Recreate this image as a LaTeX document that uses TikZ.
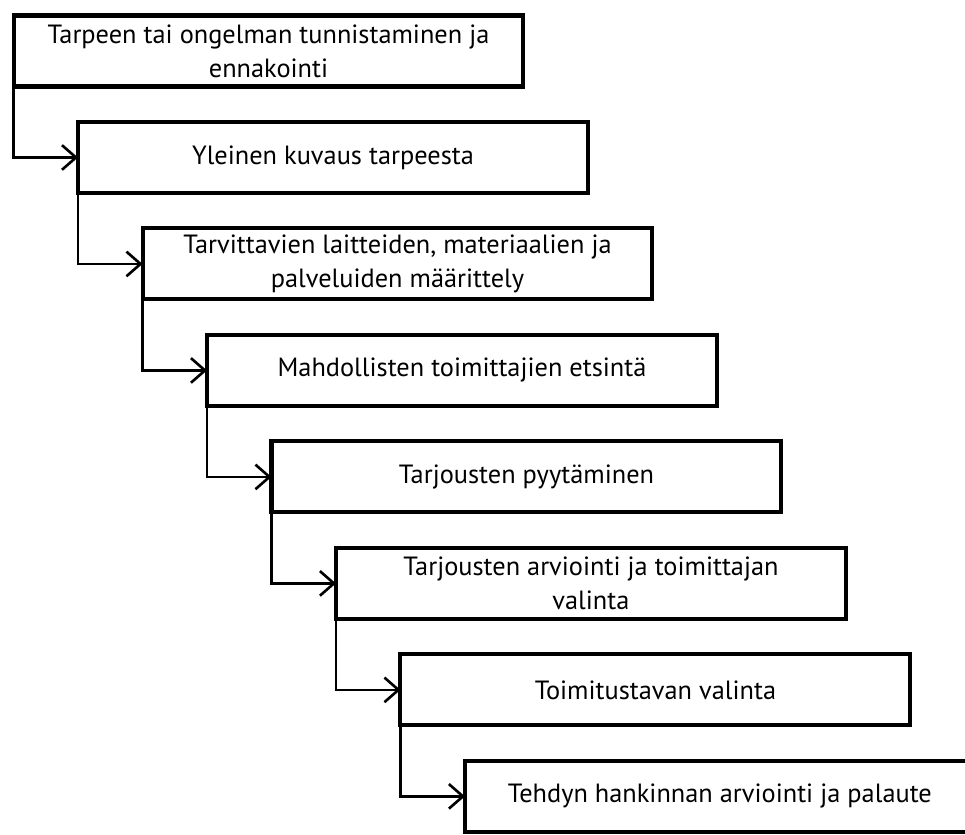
\documentclass[tikz,border=0pt]{standalone}
\usepackage{fontspec}
\setmainfont{PT Sans}
\usetikzlibrary{arrows.meta}

\begin{document}
\begin{tikzpicture}[x=0.02cm, y=-0.02cm, node distance=2.13cm]
\tikzstyle{stepbox} = [rectangle, draw=black, line width=2.3pt, outer sep=0pt, minimum width=10.2cm, minimum height=1.42cm, align=center, text centered, font=\fontsize{15}{19.5}\selectfont]
\tikzstyle{arrow} = [-{Straight Barb[length=8pt,width=14pt]}, line width=1.5pt]

\useasboundingbox (0,0) rectangle (965,835);

\node (Tunnistaminen) [stepbox] at (268.5,51) {Tarpeen tai ongelman tunnistaminen ja\\ennakointi};
\node (Kuvaus) [stepbox, below of=Tunnistaminen, xshift=1.29cm] {Yleinen kuvaus tarpeesta};
\node (Maarittely) [stepbox, below of=Kuvaus, xshift=1.29cm] {Tarvittavien laitteiden, materiaalien ja\\palveluiden määrittely};
\node (Etsinta) [stepbox, below of=Maarittely, xshift=1.29cm] {Mahdollisten toimittajien etsintä};
\node (Pyytaminen) [stepbox, below of=Etsinta, xshift=1.29cm] {Tarjousten pyytäminen};
\node (Valinta) [stepbox, below of=Pyytaminen, xshift=1.29cm] {Tarjousten arviointi ja toimittajan\\valinta};
\node (Toimitustapa) [stepbox, below of=Valinta, xshift=1.29cm] {Toimitustavan valinta};
\node (Palaute) [stepbox, below of=Toimitustapa, xshift=1.29cm] {Tehdyn hankinnan arviointi ja palaute};

\draw [arrow] (Tunnistaminen.south west) |- (Kuvaus.west);
\draw [arrow] (Kuvaus.south west) |- (Maarittely.west);
\draw [arrow] (Maarittely.south west) |- (Etsinta.west);
\draw [arrow] (Etsinta.south west) |- (Pyytaminen.west);
\draw [arrow] (Pyytaminen.south west) |- (Valinta.west);
\draw [arrow] (Valinta.south west) |- (Toimitustapa.west);
\draw [arrow] (Toimitustapa.south west) |- (Palaute.west);

\end{tikzpicture}
\end{document}
